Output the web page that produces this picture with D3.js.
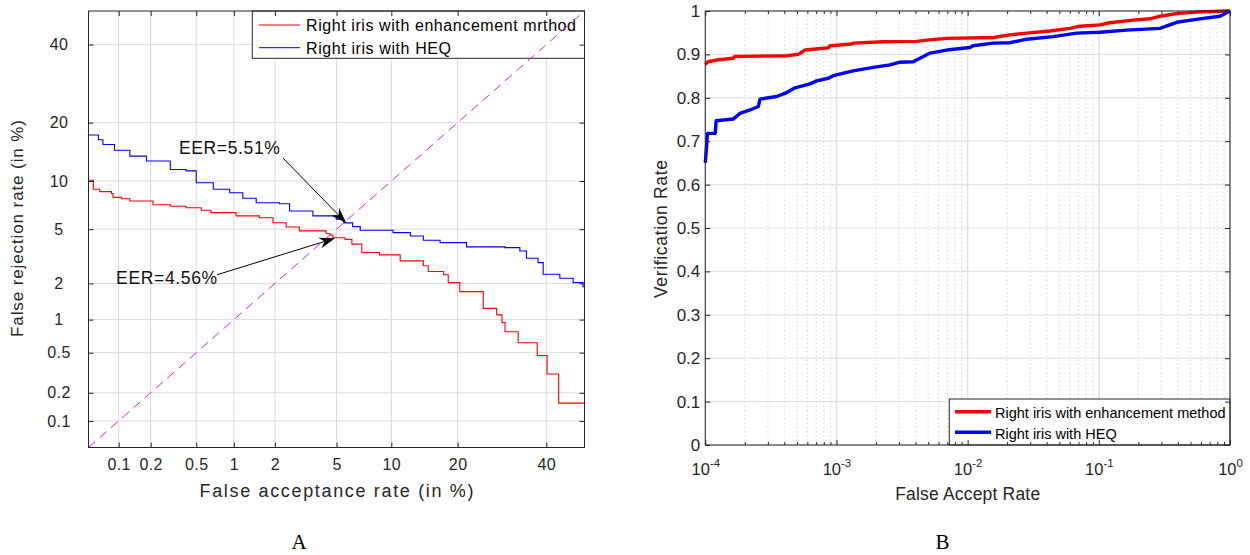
<!DOCTYPE html>
<html>
<head>
<meta charset="utf-8">
<script src="https://cdn.jsdelivr.net/npm/d3@7"></script>
<style>
  body { margin: 0; background: #fff; }
  svg { display: block; font-family: "Liberation Sans", Arial, Helvetica, sans-serif; }
</style>
</head>
<body>
<svg id="fig" width="1250" height="555"></svg>
<script>
// ---------- Panel A: DET curves (all values in %) ----------
const detDomain = [0.05, 50];
const detTicks = [0.1, 0.2, 0.5, 1, 2, 5, 10, 20, 40];

const enhFAR = [0.05, 0.056, 0.065, 0.085, 0.088, 0.106, 0.128, 0.21, 0.30, 0.41, 0.55, 0.66, 1.04, 1.55, 1.94, 2.39, 2.93, 4.33, 4.56, 4.76, 5.61, 6.14, 6.98, 8.69, 11.07, 14.25, 15.0, 17.5, 18.3, 20.4, 25.1, 28.0, 29.2, 29.9, 33.0, 37.7, 40.2, 43.2, 50];
const enhFRR = [10.1, 8.95, 8.67, 8.43, 8.0, 7.85, 7.6, 7.2, 7.05, 6.9, 6.66, 6.43, 6.12, 5.96, 5.52, 5.17, 4.87, 4.67, 4.56, 4.37, 4.26, 3.94, 3.43, 3.30, 2.98, 2.74, 2.48, 2.34, 2.03, 1.72, 1.25, 1.10, 0.94, 0.78, 0.62, 0.47, 0.31, 0.156, 0.156];

const heqFAR = [0.05, 0.063, 0.070, 0.091, 0.128, 0.183, 0.30, 0.41, 0.50, 0.69, 0.93, 1.17, 1.47, 2.15, 2.52, 3.58, 4.98, 5.51, 6.2, 6.84, 10.2, 12.4, 14.25, 16.9, 21.7, 29.9, 33.4, 35.0, 37.9, 39.2, 43.5, 47.0, 49.6, 50];
const heqFRR = [17.5, 16.6, 15.7, 14.7, 13.7, 12.9, 11.6, 11.4, 9.77, 8.95, 8.53, 7.9, 7.42, 7.31, 6.58, 6.12, 5.82, 5.51, 5.2, 4.92, 4.74, 4.49, 4.20, 4.04, 3.77, 3.72, 3.52, 3.12, 2.89, 2.36, 2.20, 2.03, 1.88, 1.88];

const detNames = ["Right iris with enhancement mrthod", "Right iris with HEQ"];

// Equal-error-rate call-outs: arrow tip and tail in (FAR %, FRR %)
const eerLabels = ["EER=5.51%", "EER=4.56%"];
const eerTips = [[5.7, 5.5], [4.9, 4.34]];
const eerTails = [[2.27, 13.4], [0.74, 2.34]];

// ---------- Panel B: ROC curves ----------
const rocXTicks = [1e-4, 1e-3, 1e-2, 1e-1, 1];
const rocYTicks = [0, 0.1, 0.2, 0.3, 0.4, 0.5, 0.6, 0.7, 0.8, 0.9, 1];

const enhRocFAR = [1e-4, 1.05e-4, 1.22e-4, 1.63e-4, 1.68e-4, 2.54e-4, 4.17e-4, 5.11e-4, 5.75e-4, 6.65e-4, 8.66e-4, 8.92e-4, 1.31e-3, 1.34e-3, 2.27e-3, 4.08e-3, 4.87e-3, 6.92e-3, 1.57e-2, 2.10e-2, 2.82e-2, 4.24e-2, 6.01e-2, 7.18e-2, 0.102, 0.121, 0.183, 0.245, 0.292, 0.392, 0.589, 0.94, 1];
const enhRocVR = [0.877, 0.883, 0.887, 0.891, 0.895, 0.896, 0.897, 0.900, 0.910, 0.912, 0.915, 0.920, 0.924, 0.926, 0.929, 0.930, 0.933, 0.937, 0.939, 0.945, 0.949, 0.954, 0.960, 0.965, 0.968, 0.973, 0.979, 0.982, 0.988, 0.994, 0.998, 1.0, 1.0];

const heqRocFAR = [1e-4, 1.04e-4, 1.19e-4, 1.21e-4, 1.63e-4, 1.84e-4, 2.19e-4, 2.54e-4, 2.61e-4, 3.50e-4, 4.17e-4, 4.83e-4, 6.28e-4, 7.06e-4, 8.66e-4, 9.46e-4, 1.34e-3, 1.91e-3, 2.56e-3, 3.05e-3, 3.85e-3, 5.17e-3, 6.92e-3, 1.04e-2, 1.10e-2, 1.57e-2, 2.10e-2, 2.82e-2, 4.49e-2, 6.77e-2, 0.102, 0.163, 0.292, 0.392, 0.589, 0.837, 1];
const heqRocVR = [0.650, 0.718, 0.718, 0.747, 0.751, 0.764, 0.772, 0.780, 0.797, 0.803, 0.812, 0.823, 0.832, 0.839, 0.845, 0.851, 0.862, 0.870, 0.876, 0.882, 0.883, 0.903, 0.910, 0.916, 0.920, 0.926, 0.927, 0.935, 0.941, 0.949, 0.951, 0.956, 0.960, 0.974, 0.982, 0.988, 1.0];

const rocNames = ["Right iris with enhancement method", "Right iris with HEQ"];
const seriesColors = ["#ff0000", "#0000ff"];
const panelLabels = ["A", "B"];

// ---------- helpers ----------
// Inverse standard normal CDF (Acklam's rational approximation)
function probit(p) {
  const a = [-3.969683028665376e+01, 2.209460984245205e+02, -2.759285104469687e+02, 1.383577518672690e+02, -3.066479806614716e+01, 2.506628277459239e+00];
  const b = [-5.447609879822406e+01, 1.615858368580409e+02, -1.556989798598866e+02, 6.680131188771972e+01, -1.328068155288572e+01];
  const c = [-7.784894002430293e-03, -3.223964580411365e-01, -2.400758277161838e+00, -2.549732539343734e+00, 4.374664141464968e+00, 2.938163982698783e+00];
  const d = [7.784695709041462e-03, 3.224671290700398e-01, 2.445134137142996e+00, 3.754408661907416e+00];
  const pl = 0.02425, ph = 1 - pl;
  let q, r;
  if (p < pl) {
    q = Math.sqrt(-2 * Math.log(p));
    return (((((c[0]*q+c[1])*q+c[2])*q+c[3])*q+c[4])*q+c[5]) / ((((d[0]*q+d[1])*q+d[2])*q+d[3])*q+1);
  }
  if (p <= ph) {
    q = p - 0.5; r = q * q;
    return (((((a[0]*r+a[1])*r+a[2])*r+a[3])*r+a[4])*r+a[5])*q / (((((b[0]*r+b[1])*r+b[2])*r+b[3])*r+b[4])*r+1);
  }
  q = Math.sqrt(-2 * Math.log(1 - p));
  return -(((((c[0]*q+c[1])*q+c[2])*q+c[3])*q+c[4])*q+c[5]) / ((((d[0]*q+d[1])*q+d[2])*q+d[3])*q+1);
}

// Normal-deviate scale for percentages, usable by d3.axis
function probitScale(domainPct, range) {
  const lin = d3.scaleLinear().domain(domainPct.map(v => probit(v / 100))).range(range);
  const s = v => lin(probit(v / 100));
  s.domain = () => domainPct.slice();
  s.range = () => lin.range();
  s.copy = () => probitScale(domainPct, range);
  return s;
}

function styleAxis(g, color) {
  g.attr("font-size", null).attr("font-family", null).attr("color", color);
  g.select(".domain").remove();
}

const svg = d3.select("#fig");
const axisColor = "#262626";

// =====================================================
// Panel A
// =====================================================
const PA = { left: 88.5, right: 584.5, top: 11, bottom: 447.5 };
const ax = probitScale(detDomain, [PA.left, PA.right]);
const ay = probitScale(detDomain, [PA.bottom, PA.top]);
const gA = svg.append("g");

// grid
gA.append("g").selectAll("line").data(detTicks).join("line")
  .attr("x1", d => ax(d)).attr("x2", d => ax(d))
  .attr("y1", PA.top).attr("y2", PA.bottom)
  .attr("stroke", "#dadada").attr("stroke-width", 1);
gA.append("g").selectAll("line").data(detTicks).join("line")
  .attr("y1", d => ay(d)).attr("y2", d => ay(d))
  .attr("x1", PA.left).attr("x2", PA.right)
  .attr("stroke", "#dadada").attr("stroke-width", 1);

// legend (drawn under the diagonal reference line)
const legA = gA.append("g");
legA.append("rect")
  .attr("x", 252.3).attr("y", PA.top).attr("width", PA.right - 252.3).attr("height", 47.3)
  .attr("fill", "#fff").attr("stroke", axisColor).attr("stroke-width", 1);
const legAText = [270, 145];
detNames.forEach((name, i) => {
  const y = 25 + i * 22.7;
  legA.append("line").attr("x1", 259).attr("x2", 300).attr("y1", y).attr("y2", y)
    .attr("stroke", seriesColors[i]).attr("stroke-width", 1);
  legA.append("text").attr("x", 306).attr("y", y + 5.8)
    .attr("font-size", 16).attr("fill", "#000")
    .attr("textLength", legAText[i]).attr("lengthAdjust", "spacing")
    .text(name);
});

// DET curves (staircase)
const detLine = d3.line().x(d => ax(d[0])).y(d => ay(d[1])).curve(d3.curveStepAfter);
[[enhFAR, enhFRR], [heqFAR, heqFRR]].forEach(([fx, fy], i) => {
  gA.append("path")
    .datum(fx.map((v, k) => [v, fy[k]]))
    .attr("d", detLine)
    .attr("fill", "none").attr("stroke", seriesColors[i]).attr("stroke-width", 1.1);
});

// equal-error diagonal
gA.append("path")
  .datum([detDomain[0], detDomain[1]])
  .attr("d", d => `M${ax(d[0])},${ay(d[0])}L${ax(d[1])},${ay(d[1])}`)
  .attr("stroke", "#dd22dd").attr("stroke-width", 1).attr("stroke-dasharray", "9,6").attr("fill", "none");

// EER arrows
const labelShift = [[-3, -4.3], [0, 9.3]];
eerLabels.forEach((lab, i) => {
  const tx = ax(eerTails[i][0]), ty = ay(eerTails[i][1]);
  const hx = ax(eerTips[i][0]), hy = ay(eerTips[i][1]);
  const len = Math.hypot(hx - tx, hy - ty);
  const ux = (hx - tx) / len, uy = (hy - ty) / len;
  const L = 16, W = 5.5;
  const bx = hx - ux * L, by = hy - uy * L;
  const nx = hx - ux * L * 0.68, ny = hy - uy * L * 0.68;
  gA.append("line").attr("x1", tx).attr("y1", ty).attr("x2", nx).attr("y2", ny)
    .attr("stroke", "#000").attr("stroke-width", 1);
  gA.append("path")
    .attr("d", `M${hx},${hy}L${bx - uy * W},${by + ux * W}L${nx},${ny}L${bx + uy * W},${by - ux * W}Z`)
    .attr("fill", "#000");
  gA.append("text")
    .attr("x", tx + labelShift[i][0]).attr("y", ty + labelShift[i][1])
    .attr("text-anchor", "end").attr("font-size", 17.5).attr("fill", "#111")
    .attr("textLength", 101).attr("lengthAdjust", "spacing")
    .text(lab);
});

// axes
const fmtA = d => String(d);
const xAxA = gA.append("g").attr("transform", `translate(0,${PA.bottom})`)
  .call(d3.axisBottom(ax).tickValues(detTicks).tickFormat(fmtA).tickSizeInner(-5).tickSizeOuter(0).tickPadding(11.5));
styleAxis(xAxA, axisColor);
xAxA.selectAll("text").attr("font-size", 16).attr("letter-spacing", 0.4).attr("fill", axisColor);

const yAxA = gA.append("g").attr("transform", `translate(${PA.left},0)`)
  .call(d3.axisLeft(ay).tickValues(detTicks).tickFormat(fmtA).tickSizeInner(-5).tickSizeOuter(0));
styleAxis(yAxA, axisColor);
yAxA.selectAll("text").attr("x", -29.5).attr("text-anchor", "middle")
  .attr("font-size", 16).attr("letter-spacing", 0.4).attr("fill", axisColor);

const tAxA = gA.append("g").attr("transform", `translate(0,${PA.top})`)
  .call(d3.axisTop(ax).tickValues(detTicks).tickFormat("").tickSizeInner(-5).tickSizeOuter(0));
styleAxis(tAxA, axisColor);
const rAxA = gA.append("g").attr("transform", `translate(${PA.right},0)`)
  .call(d3.axisRight(ay).tickValues(detTicks).tickFormat("").tickSizeInner(-5).tickSizeOuter(0));
styleAxis(rAxA, axisColor);

gA.append("rect").attr("x", PA.left).attr("y", PA.top)
  .attr("width", PA.right - PA.left).attr("height", PA.bottom - PA.top)
  .attr("fill", "none").attr("stroke", axisColor).attr("stroke-width", 1);

gA.append("text").attr("x", (PA.left + PA.right) / 2).attr("y", 497)
  .attr("text-anchor", "middle").attr("font-size", 18).attr("fill", axisColor)
  .attr("textLength", 274).attr("lengthAdjust", "spacing")
  .text("False acceptance rate (in %)");
gA.append("text").attr("transform", `translate(23.3,228.5) rotate(-90)`)
  .attr("text-anchor", "middle").attr("font-size", 17).attr("fill", axisColor)
  .attr("textLength", 217).attr("lengthAdjust", "spacing")
  .text("False rejection rate (in %)");

// =====================================================
// Panel B
// =====================================================
const PB = { left: 705.3, right: 1230, top: 11, bottom: 445 };
const bx = d3.scaleLog().domain([rocXTicks[0], rocXTicks[rocXTicks.length - 1]]).range([PB.left, PB.right]);
const by = d3.scaleLinear().domain([0, 1]).range([PB.bottom, PB.top]);
const gB = svg.append("g");

const minorX = [];
for (let e = -4; e < 0; e++) for (let m = 2; m <= 9; m++) minorX.push(m * Math.pow(10, e));

// grid
gB.append("g").selectAll("line").data(minorX).join("line")
  .attr("x1", d => bx(d)).attr("x2", d => bx(d))
  .attr("y1", PB.top).attr("y2", PB.bottom)
  .attr("stroke", "#bdbdbd").attr("stroke-width", 0.8).attr("stroke-dasharray", "1.2,3");
gB.append("g").selectAll("line").data(rocYTicks).join("line")
  .attr("y1", d => by(d)).attr("y2", d => by(d))
  .attr("x1", PB.left).attr("x2", PB.right)
  .attr("stroke", "#e2e2e2").attr("stroke-width", 1.2);
gB.append("g").selectAll("line").data(rocXTicks).join("line")
  .attr("x1", d => bx(d)).attr("x2", d => bx(d))
  .attr("y1", PB.top).attr("y2", PB.bottom)
  .attr("stroke", "#e2e2e2").attr("stroke-width", 1.6);

// ROC curves
const rocLine = d3.line().x(d => bx(d[0])).y(d => by(d[1]));
[[enhRocFAR, enhRocVR], [heqRocFAR, heqRocVR]].forEach(([fx, fy], i) => {
  gB.append("path")
    .datum(fx.map((v, k) => [v, fy[k]]))
    .attr("d", rocLine)
    .attr("fill", "none").attr("stroke", seriesColors[i]).attr("stroke-width", 3.4)
    .attr("stroke-linejoin", "round");
});

// legend
const legB = gB.append("g");
legB.append("rect")
  .attr("x", 949.3).attr("y", 399).attr("width", PB.right - 949.3).attr("height", PB.bottom - 399)
  .attr("fill", "#fff").attr("stroke", axisColor).attr("stroke-width", 1);
rocNames.forEach((name, i) => {
  const y = 411.7 + i * 20.6;
  legB.append("line").attr("x1", 955).attr("x2", 991).attr("y1", y).attr("y2", y)
    .attr("stroke", seriesColors[i]).attr("stroke-width", 3.4);
  legB.append("text").attr("x", 995).attr("y", y + 6.3)
    .attr("font-size", 14.5).attr("fill", "#000").text(name);
});

// axes
const xAxB = gB.append("g").attr("transform", `translate(0,${PB.bottom})`)
  .call(d3.axisBottom(bx).tickValues(rocXTicks).tickSizeInner(-5).tickSizeOuter(0));
styleAxis(xAxB, axisColor);
xAxB.selectAll("text").each(function (d) {
  const t = d3.select(this);
  t.text(null).attr("y", 30).attr("dy", null).attr("fill", axisColor).attr("font-size", 16.5);
  t.append("tspan").text("10");
  t.append("tspan").attr("dy", -8).attr("font-size", 11.5).text(String(Math.round(Math.log10(d))));
});
const xMinB = gB.append("g").attr("transform", `translate(0,${PB.bottom})`)
  .call(d3.axisBottom(bx).tickValues(minorX).tickFormat("").tickSizeInner(-3).tickSizeOuter(0));
styleAxis(xMinB, axisColor);

const tAxB = gB.append("g").attr("transform", `translate(0,${PB.top})`)
  .call(d3.axisTop(bx).tickValues(rocXTicks).tickFormat("").tickSizeInner(-5).tickSizeOuter(0));
styleAxis(tAxB, axisColor);
const tMinB = gB.append("g").attr("transform", `translate(0,${PB.top})`)
  .call(d3.axisTop(bx).tickValues(minorX).tickFormat("").tickSizeInner(-3).tickSizeOuter(0));
styleAxis(tMinB, axisColor);

const yAxB = gB.append("g").attr("transform", `translate(${PB.left},0)`)
  .call(d3.axisLeft(by).tickValues(rocYTicks).tickFormat(d3.format("~g")).tickSizeInner(-5).tickSizeOuter(0).tickPadding(5));
styleAxis(yAxB, axisColor);
yAxB.selectAll("text").attr("font-size", 17).attr("fill", axisColor);
const rAxB = gB.append("g").attr("transform", `translate(${PB.right},0)`)
  .call(d3.axisRight(by).tickValues(rocYTicks).tickFormat("").tickSizeInner(-5).tickSizeOuter(0));
styleAxis(rAxB, axisColor);

gB.append("rect").attr("x", PB.left).attr("y", PB.top)
  .attr("width", PB.right - PB.left).attr("height", PB.bottom - PB.top)
  .attr("fill", "none").attr("stroke", axisColor).attr("stroke-width", 1);

gB.append("text").attr("x", (PB.left + PB.right) / 2).attr("y", 500)
  .attr("text-anchor", "middle").attr("font-size", 17.5).attr("fill", axisColor)
  .attr("textLength", 145).attr("lengthAdjust", "spacing")
  .text("False Accept Rate");
gB.append("text").attr("transform", `translate(667,229) rotate(-90)`)
  .attr("text-anchor", "middle").attr("font-size", 17.5).attr("fill", axisColor)
  .attr("textLength", 138).attr("lengthAdjust", "spacing")
  .text("Verification Rate");

// panel captions
const captionX = [299, 942.5];
panelLabels.forEach((lab, i) => {
  svg.append("text").attr("x", captionX[i]).attr("y", 549)
    .attr("text-anchor", "middle").attr("font-size", 21)
    .attr("font-family", "'Liberation Serif', 'Times New Roman', serif")
    .attr("fill", "#000").text(lab);
});
</script>
</body>
</html>
